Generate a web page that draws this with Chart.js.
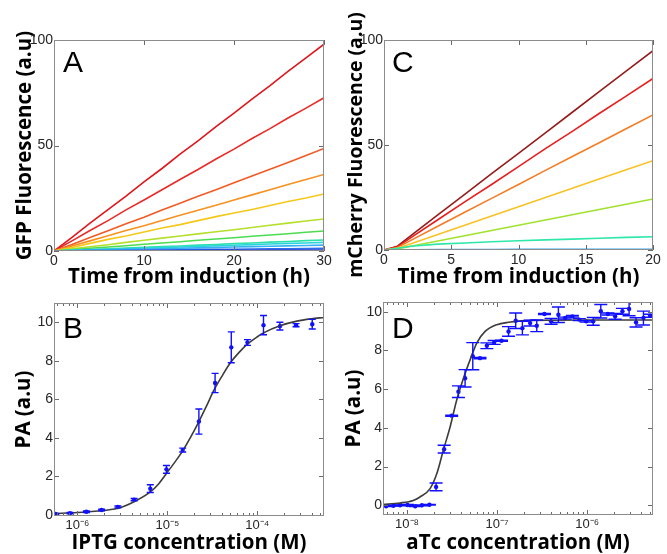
<!DOCTYPE html>
<html lang="en">
<head>
<meta charset="UTF-8">
<title>Induction kinetics and dose response</title>
<script src="https://cdn.jsdelivr.net/npm/chart.js"></script>
<style>
  body { margin: 0; background: #fff; }
  #wrap { position: relative; width: 667px; height: 554px; }
  canvas { position: absolute; }
</style>
</head>
<body>
<div id="wrap">
  <canvas id="chartA" width="333" height="292" style="left:0;top:0"></canvas>
  <canvas id="chartC" width="334" height="292" style="left:333px;top:0"></canvas>
  <canvas id="chartB" width="333" height="262" style="left:0;top:292px"></canvas>
  <canvas id="chartD" width="334" height="262" style="left:333px;top:292px"></canvas>
</div>
<script>
// ---- panel A: GFP fluorescence vs time ----
const timeA = [0, 2, 4, 6, 8, 10, 12, 14, 16, 18, 20, 22, 24, 26, 28, 30];
const gfpLines = [
  [0, 6.5, 13.2, 19.6, 26.0, 32.8, 39.1, 45.9, 52.2, 59.0, 65.3, 72.0, 78.4, 85.1, 91.5, 98.0],
  [0, 4.8, 9.7, 14.4, 19.5, 24.2, 29.0, 33.9, 38.6, 43.6, 48.3, 53.3, 58.0, 63.0, 67.7, 72.6],
  [0, 3.1, 6.4, 9.6, 12.9, 16.0, 19.4, 22.6, 25.9, 29.0, 32.3, 35.5, 38.8, 42.0, 45.3, 48.6],
  [0, 2.4, 4.8, 7.2, 9.7, 12.0, 14.5, 16.9, 19.3, 21.7, 24.2, 26.6, 29.0, 31.5, 33.9, 36.3],
  [0, 1.7, 3.6, 5.5, 7.1, 9.0, 10.9, 12.5, 14.4, 16.3, 18.0, 19.7, 21.6, 23.5, 25.1, 27.0],
  [0, 1.0, 2.0, 3.0, 4.1, 5.1, 6.1, 7.1, 8.1, 9.1, 10.1, 11.1, 12.2, 13.2, 14.2, 15.2],
  [0, 0.6, 1.3, 1.9, 2.5, 3.2, 3.8, 4.4, 5.1, 5.7, 6.3, 7.0, 7.6, 8.2, 8.9, 9.5],
  [0, 0.35, 0.7, 1.0, 1.4, 1.7, 2.1, 2.4, 2.8, 3.1, 3.5, 3.8, 4.2, 4.5, 4.9, 5.2],
  [0, 0.3, 0.55, 0.8, 1.1, 1.4, 1.6, 1.9, 2.2, 2.5, 2.7, 3.0, 3.3, 3.6, 3.8, 4.1],
  [0, 0.2, 0.4, 0.55, 0.75, 0.95, 1.1, 1.3, 1.5, 1.7, 1.9, 2.05, 2.25, 2.45, 2.6, 2.8],
  [0, 0.1, 0.2, 0.25, 0.35, 0.45, 0.5, 0.6, 0.7, 0.8, 0.85, 0.95, 1.05, 1.1, 1.2, 1.3],
  [0, 0.05, 0.1, 0.1, 0.15, 0.15, 0.2, 0.2, 0.25, 0.3, 0.3, 0.35, 0.4, 0.4, 0.45, 0.5],
  [0, 0.1, -0.1, 0.1, 0, -0.1, 0.1, 0, -0.1, 0.1, 0, 0.1, -0.1, 0.1, 0, 0.1]
];
const gfpColors = ['#e0161b', '#ea2a26', '#f25a24', '#f7911f', '#f6c81a', '#b4e02c', '#4cdc4f',
  '#2de0a8', '#2ad6dc', '#34b0f0', '#2a6ef0', '#1830c8', '#101890'];
const ticksAx = [0, 10, 20, 30];
const ticksAy = [0, 50, 100];

// ---- panel C: mCherry fluorescence vs time ----
const timeC = [0, 1, 2, 4, 6, 8, 10, 12, 14, 16, 18, 20];
const cherryLines = [
  [0, 1.8, 6.9, 16.7, 26.5, 36.4, 46.0, 55.8, 65.6, 75.4, 85.2, 94.9],
  [0, 1.5, 5.9, 14.4, 22.9, 31.2, 39.7, 48.3, 56.5, 65.0, 73.3, 81.7],
  [0, 1.2, 4.6, 11.3, 18.0, 24.6, 31.2, 37.9, 44.5, 51.1, 57.7, 64.3],
  [0, 0.8, 3.0, 7.4, 11.8, 16.2, 20.6, 25.0, 29.4, 33.8, 38.2, 42.5],
  [0, 0.5, 1.8, 4.3, 6.8, 9.3, 11.8, 14.3, 16.8, 19.3, 21.8, 24.3],
  [0, 0.8, 1.8, 2.8, 3.3, 3.9, 4.4, 4.8, 5.2, 5.6, 6.0, 6.3],
  [0, 0.1, 0.15, 0.2, 0.2, 0.25, 0.3, 0.3, 0.3, 0.35, 0.3, 0.3],
  [0, -0.1, 0.0, -0.1, 0.05, -0.1, 0, -0.05, 0.05, -0.1, 0, -0.05]
];
const cherryColors = ['#951c1c', '#e81e1e', '#f57c22', '#f9c224', '#a0e22e', '#2ee8a8', '#34a8f0', '#2048e0'];
const ticksCx = [0, 5, 10, 15, 20];
const ticksCy = [0, 50, 100];

// ---- panel B: PA vs IPTG ----
const iptgConc = [5.75e-7, 8.3e-7, 1.26e-6, 1.86e-6, 2.82e-6, 4.27e-6, 6.46e-6, 9.77e-6, 1.48e-5,
  2.24e-5, 3.39e-5, 5.13e-5, 7.76e-5, 1.17e-4, 1.78e-4, 2.69e-4, 4.07e-4];
const iptgPA = [0.05, 0.1, 0.17, 0.26, 0.42, 0.8, 1.37, 2.37, 3.37, 4.85, 6.85, 8.7, 8.95, 9.85, 9.8, 9.85, 9.9];
const iptgErr = [0.03, 0.03, 0.04, 0.04, 0.05, 0.06, 0.2, 0.2, 0.1, 0.65, 0.5, 0.8, 0.15, 0.5, 0.2, 0.08, 0.25];
const iptgFitX = [5.5e-7, 1.0e-6, 1.58e-6, 2.82e-6, 4.27e-6, 6.46e-6, 7.94e-6, 9.77e-6, 1.2e-5, 1.48e-5,
  1.82e-5, 2.24e-5, 2.75e-5, 3.27e-5, 3.98e-5, 5.01e-5, 6.31e-5, 7.67e-5, 1.0e-4, 1.17e-4,
  1.78e-4, 2.75e-4, 3.98e-4, 5.5e-4];
const iptgFitY = [0.08, 0.13, 0.2, 0.35, 0.69, 1.2, 1.6, 2.16, 2.72, 3.33, 4.05, 4.85, 5.7, 6.45,
  7.15, 7.9, 8.45, 8.85, 9.25, 9.45, 9.82, 10.06, 10.18, 10.25];
const decadesB = [1e-6, 1e-5, 1e-4];
const decadeLabelsB = ['10⁻⁶', '10⁻⁵', '10⁻⁴'];
const ticksBy = [0, 2, 4, 6, 8, 10];

// ---- panel D: PA vs aTc ----
const atcConc = [5.85e-9, 7.05e-9, 8.36e-9, 1.01e-8, 1.23e-8, 1.46e-8, 1.77e-8, 2.1e-8, 2.58e-8, 3.13e-8,
  3.72e-8, 4.41e-8, 5.37e-8, 6.46e-8, 7.69e-8, 9.27e-8, 1.12e-7, 1.34e-7, 1.61e-7, 1.91e-7, 2.33e-7,
  2.76e-7, 3.36e-7, 3.98e-7, 4.80e-7, 5.70e-7, 6.87e-7, 8.20e-7, 9.77e-7, 1.17e-6, 1.42e-6, 1.70e-6,
  2.05e-6, 2.47e-6, 2.93e-6, 3.50e-6, 4.23e-6, 5.01e-6];
const atcPA = [-0.05, -0.02, 0.0, 0.02, -0.05, 0.0, 0.03, 0.95, 2.9, 4.63, 5.87, 6.56, 7.7, 7.6, 8.24, 8.41,
  8.5, 8.98, 9.53, 9.15, 9.41, 9.27, 9.88, 9.5, 9.84, 9.67, 9.76, 9.59, 9.5, 9.5, 10.02, 9.88, 9.76, 10.02,
  10.14, 9.45, 9.67, 9.79];
const atcErr = [0.02, 0.02, 0.02, 0.02, 0.02, 0.02, 0.02, 0.2, 0.2, 0.03, 0.3, 0.45, 0.7, 0.03, 0.15, 0.1,
  0.03, 0.25, 0.4, 0.35, 0.15, 0.3, 0.03, 0.15, 0.4, 0.05, 0.04, 0.05, 0.04, 0.2, 0.35, 0.05, 0.15, 0.15,
  0.35, 0.24, 0.36, 0.08];
const atcFitX = [5.37e-9, 8.32e-9, 1.17e-8, 1.39e-8, 1.80e-8, 2.14e-8, 2.53e-8, 3.01e-8, 3.56e-8, 4.23e-8,
  5.01e-8, 5.94e-8, 7.36e-8, 9.93e-8, 1.34e-7, 2.51e-7, 1.0e-6, 5.37e-6];
const atcFitY = [0.04, 0.12, 0.25, 0.43, 0.86, 1.64, 2.85, 4.06, 5.44, 6.56, 7.51, 8.38, 8.98, 9.33, 9.45,
  9.55, 9.57, 9.57];
const decadesD = [1e-8, 1e-7, 1e-6];
const decadeLabelsD = ['10⁻⁸', '10⁻⁷', '10⁻⁶'];
const ticksDy = [0, 2, 4, 6, 8, 10];

const TICK_FONT = { family: '"Liberation Sans", Arial, sans-serif', size: 14 };
const TITLE_FONT = { family: '"Open Sans", sans-serif', size: 20.5, weight: 'bold' };

// box, inner tick marks, panel letter, error bars
const frame = {
  id: 'frame',
  afterDatasetsDraw(chart) {
    const { ctx, chartArea: a, scales: { x, y } } = chart;
    chart.data.datasets.forEach(ds => {
      if (!ds.errors) return;
      ctx.save();
      ctx.beginPath();
      ctx.rect(a.left, a.top, a.width, a.height);
      ctx.clip();
      ctx.strokeStyle = ds.borderColor;
      ctx.lineWidth = 1.4;
      ds.data.forEach((p, i) => {
        const px = x.getPixelForValue(p.x);
        const top = y.getPixelForValue(p.y + ds.errors[i]);
        const bot = y.getPixelForValue(p.y - ds.errors[i]);
        ctx.beginPath();
        ctx.moveTo(px, top); ctx.lineTo(px, bot);
        ctx.moveTo(px - ds.cap, top); ctx.lineTo(px + ds.cap, top);
        ctx.moveTo(px - ds.cap, bot); ctx.lineTo(px + ds.cap, bot);
        ctx.stroke();
      });
      ctx.restore();
    });
  },
  afterDraw(chart, args, opts) {
    const { ctx, chartArea: a, scales: { x, y } } = chart;
    ctx.save();
    ctx.strokeStyle = '#6a6a6a';
    ctx.lineWidth = 1;
    ctx.beginPath();
    x.ticks.forEach(t => {
      const px = Math.round(x.getPixelForValue(t.value)) + 0.5;
      const l = t.major === false ? 3 : 5;
      ctx.moveTo(px, a.bottom); ctx.lineTo(px, a.bottom - l);
      ctx.moveTo(px, a.top); ctx.lineTo(px, a.top + l);
    });
    y.ticks.forEach(t => {
      const py = Math.round(y.getPixelForValue(t.value)) + 0.5;
      ctx.moveTo(a.left, py); ctx.lineTo(a.left + 5, py);
      ctx.moveTo(a.right, py); ctx.lineTo(a.right - 5, py);
    });
    ctx.stroke();
    ctx.strokeStyle = '#8c8c8c';
    ctx.strokeRect(a.left + 0.5, a.top + 0.5, a.width - 1, a.height - 1);
    ctx.fillStyle = '#000';
    ctx.font = '30px "Liberation Sans", Arial, sans-serif';
    ctx.textBaseline = 'alphabetic';
    ctx.fillText(opts.letter, a.left + opts.letterX, a.top + opts.letterY);
    ctx.restore();
  }
};

function linearTicks(list) {
  return scale => { scale.ticks = list.map(v => ({ value: v, major: true })); };
}

function logTicks(min, max, decades) {
  return scale => {
    const ticks = [];
    decades.concat([decades[0] / 10, decades[decades.length - 1] * 10]).forEach(d => {
      for (let k = 1; k <= 9; k++) {
        const v = d * k;
        if (v >= min && v <= max) ticks.push({ value: v, major: k === 1 });
      }
    });
    ticks.sort((p, q) => p.value - q.value);
    scale.ticks = ticks;
  };
}

function makePanel(id, p) {
  new Chart(document.getElementById(id), {
    type: 'line',
    data: { datasets: p.datasets },
    options: {
      responsive: false,
      animation: false,
      layout: { padding: p.padding },
      plugins: {
        legend: { display: false },
        tooltip: { enabled: false },
        frame: { letter: p.letter, letterX: p.letterX, letterY: p.letterY }
      },
      scales: {
        x: {
          type: p.xType,
          min: p.xMin, max: p.xMax,
          grid: { display: false, drawTicks: false },
          border: { display: false },
          afterBuildTicks: p.xTicks,
          afterFit: s => { s.height = p.xHeight; s.paddingLeft = 0; s.paddingRight = 0; },
          ticks: {
            autoSkip: false, maxRotation: 0, padding: 2, color: '#262626',
            font: p.xFont || TICK_FONT,
            callback: p.xLabel
          },
          title: { display: true, text: p.xTitle, color: '#000', font: TITLE_FONT,
            padding: { top: 0, bottom: p.xTitlePad } }
        },
        y: {
          type: 'linear',
          min: p.yMin, max: p.yMax,
          grid: { display: false, drawTicks: false },
          border: { display: false },
          afterBuildTicks: p.yTicks,
          afterFit: s => { s.width = p.yWidth; s.paddingTop = 0; s.paddingBottom = 0; },
          ticks: { padding: 1, color: '#262626', font: TICK_FONT },
          title: { display: true, text: p.yTitle, color: '#000',
            font: Object.assign({}, TITLE_FONT, { size: p.yTitleSize || TITLE_FONT.size }),
            padding: { top: p.yTitlePad, bottom: 0 } }
        }
      }
    },
    plugins: [frame]
  });
}

function timeSets(times, lines, colors) {
  return lines.map((vals, i) => ({
    data: times.map((t, j) => ({ x: t, y: vals[j] })),
    borderColor: colors[i],
    borderWidth: 1.6,
    borderDash: i === lines.length - 1 ? [3, 2] : [],
    pointRadius: 0,
    tension: 0
  })).reverse();
}

function doseSets(cx, cy, err, fx, fy, cap) {
  return [
    {
      data: fx.map((v, i) => ({ x: v, y: fy[i] })),
      borderColor: '#3c3c3c', borderWidth: 1.6, pointRadius: 0,
      cubicInterpolationMode: 'monotone'
    },
    {
      data: cx.map((v, i) => ({ x: v, y: cy[i] })),
      showLine: false, borderColor: '#1010ff', backgroundColor: '#1010ff',
      pointRadius: 2.2, pointBorderWidth: 0,
      errors: err, cap: cap
    }
  ];
}

function decadeLabel(decades, labels) {
  return value => {
    const i = decades.indexOf(value);
    return i >= 0 ? labels[i] : '';
  };
}

makePanel('chartA', {
  datasets: timeSets(timeA, gfpLines, gfpColors),
  padding: { left: 0, top: 40, right: 9, bottom: 0 },
  xType: 'linear', xMin: 0, xMax: 30, xTicks: linearTicks(ticksAx), xHeight: 41, xTitlePad: 2.7,
  xTitle: 'Time from induction (h)',
  yMin: 0, yMax: 100, yTicks: linearTicks(ticksAy), yWidth: 54, yTitlePad: 12.7,
  yTitle: 'GFP Fluorescence (a.u)',
  letter: 'A', letterX: 9, letterY: 32
});

makePanel('chartC', {
  datasets: timeSets(timeC, cherryLines, cherryColors),
  padding: { left: 0, top: 40, right: 14, bottom: 0 },
  xType: 'linear', xMin: 0, xMax: 20, xTicks: linearTicks(ticksCx), xHeight: 42, xTitlePad: 2.7,
  xTitle: 'Time from induction (h)',
  yMin: 0, yMax: 100, yTicks: linearTicks(ticksCy), yWidth: 51, yTitlePad: 11.3, yTitleSize: 19.5,
  yTitle: 'mCherry Fluorescence (a.u)',
  letter: 'C', letterX: 8, letterY: 32
});

makePanel('chartB', {
  datasets: doseSets(iptgConc, iptgPA, iptgErr, iptgFitX, iptgFitY, 3.5),
  padding: { left: 0, top: 11, right: 9, bottom: 0 },
  xType: 'logarithmic', xMin: 5.5e-7, xMax: 5.5e-4, xTicks: logTicks(5.5e-7, 5.5e-4, decadesB),
  xLabel: decadeLabel(decadesB, decadeLabelsB), xFont: { family: TICK_FONT.family, size: 13 },
  xHeight: 38, xTitlePad: -1,
  xTitle: 'IPTG concentration (M)',
  yMin: -0.05, yMax: 11, yTicks: linearTicks(ticksBy), yWidth: 54, yTitlePad: 11.7,
  yTitle: 'PA (a.u)',
  letter: 'B', letterX: 9, letterY: 35
});

makePanel('chartD', {
  datasets: doseSets(atcConc, atcPA, atcErr, atcFitX, atcFitY, 6.5),
  padding: { left: 0, top: 10, right: 14, bottom: 0 },
  xType: 'logarithmic', xMin: 5.4e-9, xMax: 5.4e-6, xTicks: logTicks(5.4e-9, 5.4e-6, decadesD),
  xLabel: decadeLabel(decadesD, decadeLabelsD), xFont: { family: TICK_FONT.family, size: 13 },
  xHeight: 39, xTitlePad: -1,
  xTitle: 'aTc concentration (M)',
  yMin: -0.5, yMax: 10.5, yTicks: linearTicks(ticksDy), yWidth: 50, yTitlePad: 8.7,
  yTitle: 'PA (a.u)',
  letter: 'D', letterX: 9, letterY: 36
});
</script>
</body>
</html>
